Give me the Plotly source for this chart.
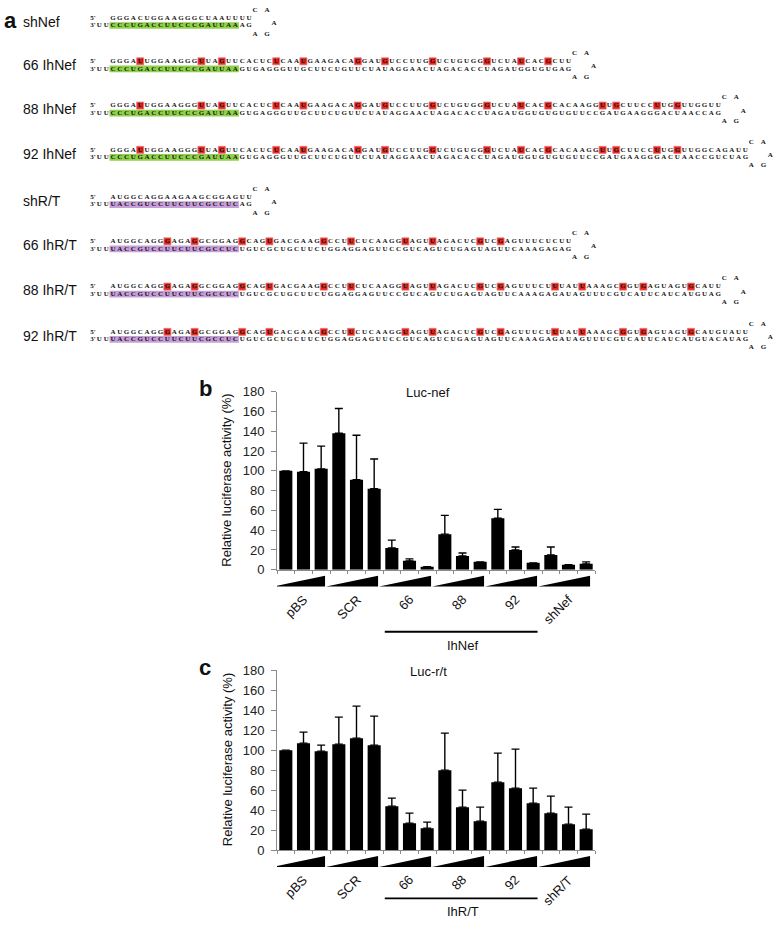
import plotly.graph_objects as go

W, H = 777, 929

# ---------------- panel a data ----------------
row_labels = ["shNef", "66 IhNef", "88 IhNef", "92 IhNef",
              "shR/T", "66 IhR/T", "88 IhR/T", "92 IhR/T"]

top_strands = [
    "GGGACUGGAAGGGCUAAUUUU",
    "GGGAUUGGAAGGGUUAGUUCACUCUCAAUGAAGACAGGAUGUCCUUGGUCUGUGGGUCUAUCACGCUU",
    "GGGAUUGGAAGGGUUAGUUCACUCUCAAUGAAGACAGGAUGUCCUUGGUCUGUGGGUCUAUCACGCACAAGGUUGCUUCCUUGGUUGGUU",
    "GGGAUUGGAAGGGUUAGUUCACUCUCAAUGAAGACAGGAUGUCCUUGGUCUGUGGGUCUAUCACGCACAAGGUUGCUUCCUUGGUUGGCAGAUU",
    "AUGGCAGGAAGAAGCGGAGUU",
    "AUGGCAGGGAGAGGCGGAGGCAGUGACGAAGGCCUUCUCAAGGUAGUUAGACUCGUCGAGUUUCUCUU",
    "AUGGCAGGGAGAGGCGGAGGCAGUGACGAAGGCCUUCUCAAGGUAGUUAGACUCGUCGAGUUUCUUUAUUAAAGCGGUGAGUAGUGCAUU",
    "AUGGCAGGGAGAGGCGGAGGCAGUGACGAAGGCCUUCUCAAGGUAGUUAGACUCGUCGAGUUUCUUUAUUAAAGCGGUGAGUAGUGCAUGUAUU",
]

bottom_strands = [
    "CCCUGACCUUCCCGAUUAAAG",
    "CCCUGACCUUCCCGAUUAAGUGAGGGUUGCUUCUGUUCUAUAGGAACUAGACACCUAGAUGGUGUGAG",
    "CCCUGACCUUCCCGAUUAAGUGAGGGUUGCUUCUGUUCUAUAGGAACUAGACACCUAGAUGGUGUGUGUUCCGAUGAAGGGACUAACCAG",
    "CCCUGACCUUCCCGAUUAAGUGAGGGUUGCUUCUGUUCUAUAGGAACUAGACACCUAGAUGGUGUGUGUUCCGAUGAAGGGACUAACCGUCUAG",
    "UACCGUCCUUCUUCGCCUCAG",
    "UACCGUCCUUCUUCGCCUCUGUCGCUGCUUCUGGAGGAGUUCCGUCAGUCUGAGUAGUUCAAAGAGAG",
    "UACCGUCCUUCUUCGCCUCUGUCGCUGCUUCUGGAGGAGUUCCGUCAGUCUGAGUAGUUCAAAGAGAUAGUUUCGUCAUUCAUCAUGUAG",
    "UACCGUCCUUCUUCGCCUCUGUCGCUGCUUCUGGAGGAGUUCCGUCAGUCUGAGUAGUUCAAAGAGAUAGUUUCGUCAUUCAUCAUGUACAUAG",
]

mismatch_sites = [
    [],
    [4, 13, 16, 24, 28, 36, 40, 47, 55, 60, 64],
    [4, 13, 16, 24, 28, 36, 40, 47, 55, 60, 64, 72, 74, 80, 83],
    [4, 13, 16, 24, 28, 36, 40, 47, 55, 60, 64, 72, 74, 80, 83],
    [],
    [8, 12, 19, 23, 31, 35, 43, 47, 54, 57],
    [8, 12, 19, 23, 31, 35, 43, 47, 54, 57, 65, 69, 75, 78, 85],
    [8, 12, 19, 23, 31, 35, 43, 47, 54, 57, 65, 69, 75, 78, 85],
]
loop_top = ["C", "A"]
loop_tip = ["A"]
loop_bottom = ["A", "G"]
guide_length = 19
guide_kind = ["nef"] * 4 + ["rt"] * 4

# ---------------- panel b / c data ----------------
groups_b = ["pBS", "SCR", "66", "88", "92", "shNef"]
b_values = [100, 99, 102, 138, 91, 82, 22, 9, 3, 36, 14, 8, 52, 20, 7, 15, 5, 6]
b_error_tops = [None, 128, 125, 163, 136, 112, 30, 11, None, 55, 17, None, 61, 23, None, 23, None, 8]
b_bracket = "IhNef"
b_title = "Luc-nef"

groups_c = ["pBS", "SCR", "66", "88", "92", "shR/T"]
c_values = [100, 107, 99, 106, 112, 105, 44, 27, 22, 80, 43, 29, 68, 62, 47, 37, 26, 21]
c_error_tops = [None, 118, 105, 133, 144, 134, 52, 37, 28, 117, 60, 43, 97, 101, 62, 54, 43, 36]
c_bracket = "IhR/T"
c_title = "Luc-r/t"

y_ticks = [0, 20, 40, 60, 80, 100, 120, 140, 160, 180]
y_title = "Relative luciferase activity (%)"

# ---------------- helpers / styles ----------------
SANS = "Liberation Sans, Arial, sans-serif"
SERIF = "Liberation Serif, Times New Roman, serif"
GUIDE_COLORS = {"nef": "#8fd14a", "rt": "#c79fd9"}
RED = "#e3261f"
AXIS_GREY = "#8a8a8a"


def px(x):
    return x / W


def py(y):
    return 1 - y / H


fig = go.Figure()
shapes = []
annotations = []

# ---------------- panel a ----------------
X0, DX = 113, 6.8
row_centres = [15, 59, 104, 149, 197, 242, 288, 334]
seq_font = dict(family=SERIF, size=7, color="#151515", weight="bold")
HALF = 3.8

for r, label in enumerate(row_labels):
    yc = row_centres[r]
    yt, yb = yc - HALF, yc + HALF
    top, bot = top_strands[r], bottom_strands[r]
    xs_top = [X0 + i * DX for i in range(len(top))]
    xs_bot = [X0 + i * DX for i in range(len(bot))]

    shapes.append(dict(type="rect", xref="x3", yref="y3",
                       x0=X0 - 3.5, x1=X0 + (guide_length - 1) * DX + 3.5,
                       y0=yb - 3.4, y1=yb + 3.4, line=dict(width=0),
                       fillcolor=GUIDE_COLORS[guide_kind[r]], layer="below"))

    sites = mismatch_sites[r]
    if sites:
        fig.add_trace(go.Scatter(
            x=[xs_top[i] for i in sites], y=[yt] * len(sites),
            mode="markers", xaxis="x3", yaxis="y3", hoverinfo="skip",
            marker=dict(symbol="square", size=7, color=RED,
                        line=dict(width=0.8, color="#f07070"))))

    fig.add_trace(go.Scatter(x=xs_top, y=[yt] * len(top), text=list(top),
                             mode="text", textfont=seq_font,
                             xaxis="x3", yaxis="y3", hoverinfo="skip"))
    fig.add_trace(go.Scatter(x=xs_bot, y=[yb] * len(bot), text=list(bot),
                             mode="text", textfont=seq_font,
                             xaxis="x3", yaxis="y3", hoverinfo="skip"))

    # 5' / 3'UU ends
    fig.add_trace(go.Scatter(
        x=[93, 93, X0 - 2 * DX, X0 - DX], y=[yt, yb, yb, yb],
        text=["5'", "3'", "U", "U"], mode="text", textfont=seq_font,
        xaxis="x3", yaxis="y3", hoverinfo="skip"))

    # loop
    xe = xs_top[-1]
    fig.add_trace(go.Scatter(
        x=[xe + 6, xe + 18, xe + 25, xe + 6, xe + 18],
        y=[yt - 8, yt - 8, yc + 1.5, yb + 8.5, yb + 8.5],
        text=loop_top + loop_tip + loop_bottom, mode="text", textfont=seq_font,
        xaxis="x3", yaxis="y3", hoverinfo="skip"))

    annotations.append(dict(text=label, x=px(21), y=py(yc), xref="paper",
                            yref="paper", xanchor="left", yanchor="middle",
                            showarrow=False,
                            font=dict(family=SANS, size=14, color="#111")))

annotations.append(dict(text="<b>a</b>", x=px(2), y=py(14), xref="paper",
                        yref="paper", xanchor="left", yanchor="middle",
                        showarrow=False, font=dict(family=SANS, size=22, color="#111")))

# ---------------- bar panels ----------------
panels = [
    dict(xa="x", ya="y", top=391, bottom=572, groups=groups_b, values=b_values,
         tops=b_error_tops, bracket=b_bracket, title=b_title, letter="b",
         line_y=635, label_y=639),
    dict(xa="x2", ya="y2", top=674, bottom=857, groups=groups_c, values=c_values,
         tops=c_error_tops, bracket=c_bracket, title=c_title, letter="c",
         line_y=906, label_y=910),
]
X_LEFT, X_RIGHT = 277, 595
n_bars = len(b_values)

for p in panels:
    err = [(t - v) if t is not None else None for t, v in zip(p["tops"], p["values"])]
    fig.add_trace(go.Bar(
        x=list(range(len(p["values"]))), y=p["values"], width=0.74,
        marker=dict(color="black", line=dict(width=0)),
        error_y=dict(type="data", symmetric=False, array=err,
                     arrayminus=[0] * len(err), color="black",
                     thickness=1.4, width=4),
        xaxis=p["xa"], yaxis=p["ya"], hoverinfo="skip"))

    bot = p["bottom"]
    # dose wedges
    for g in range(len(p["groups"])):
        xl = g * 3 - 0.5 - 0.22
        xr = xl + 3 - 0.06
        shapes.append(dict(type="path", xref=p["xa"], yref="paper",
                           path=f"M {xl},{py(bot + 17)} L {xr},{py(bot + 17)} L {xr},{py(bot + 6)} Z",
                           fillcolor="black", line=dict(width=0)))
        annotations.append(dict(text=p["groups"][g], x=g * 3 + 1 + 0.55, xref=p["xa"],
                                y=py(bot + 20), yref="paper", xanchor="right",
                                yanchor="top", textangle=-45, showarrow=False,
                                font=dict(family=SANS, size=13, color="#111")))
    # bracket under 66/88/92
    shapes.append(dict(type="line", xref=p["xa"], yref="paper",
                       x0=5.6, x1=14.25, y0=py(p["line_y"]), y1=py(p["line_y"]),
                       line=dict(color="black", width=1.8)))
    annotations.append(dict(text=p["bracket"], x=10, xref=p["xa"], y=py(p["label_y"]),
                            yref="paper", xanchor="center", yanchor="top",
                            showarrow=False, font=dict(family=SANS, size=13, color="#111")))
    # title
    annotations.append(dict(text=p["title"], x=px(428), y=py(p["top"] + 1), xref="paper",
                            yref="paper", xanchor="center", yanchor="middle",
                            showarrow=False, font=dict(family=SANS, size=13, color="#111")))
    # panel letter
    annotations.append(dict(text=f"<b>{p['letter']}</b>", x=px(205), y=py(p["top"] - 3),
                            xref="paper", yref="paper", xanchor="center",
                            yanchor="middle", showarrow=False,
                            font=dict(family=SANS, size=22, color="#111")))
    # y title
    annotations.append(dict(text=y_title, x=px(227), y=py((p["top"] + bot) / 2),
                            xref="paper", yref="paper", textangle=-90,
                            xanchor="center", yanchor="middle", showarrow=False,
                            font=dict(family=SANS, size=13, color="#111")))

xaxis_common = dict(range=[-0.5, n_bars - 0.5], domain=[px(X_LEFT), px(X_RIGHT)],
                    showline=True, linecolor=AXIS_GREY, linewidth=1,
                    ticks="outside", ticklen=3, tickcolor=AXIS_GREY,
                    tickvals=[i + 0.5 for i in range(-1, n_bars)],
                    showticklabels=False, showgrid=False, zeroline=False, fixedrange=True)
yaxis_common = dict(range=[0, 180], tickvals=y_ticks, showline=True,
                    linecolor=AXIS_GREY, linewidth=1, ticks="outside", ticklen=5,
                    tickcolor=AXIS_GREY, showgrid=False, zeroline=False,
                    ticklabelstandoff=4,
                    tickfont=dict(family=SANS, size=13, color="#222"), fixedrange=True)

fig.update_layout(
    width=W, height=H, margin=dict(l=0, r=0, t=0, b=0),
    paper_bgcolor="white", plot_bgcolor="white", showlegend=False,
    bargap=0.26,
    xaxis=dict(**xaxis_common, anchor="y"),
    yaxis=dict(**yaxis_common, anchor="x", domain=[py(572), py(391)]),
    xaxis2=dict(**xaxis_common, anchor="y2"),
    yaxis2=dict(**yaxis_common, anchor="x2", domain=[py(857), py(674)]),
    xaxis3=dict(range=[0, W], domain=[0, 1], visible=False, anchor="y3", fixedrange=True),
    yaxis3=dict(range=[372, 0], domain=[py(372), 1], visible=False, anchor="x3", fixedrange=True),
    shapes=shapes, annotations=annotations,
)

fig.write_html("out.html", config={"displayModeBar": False},
               post_script="document.body.style.margin='0';document.body.style.overflow='hidden';")
